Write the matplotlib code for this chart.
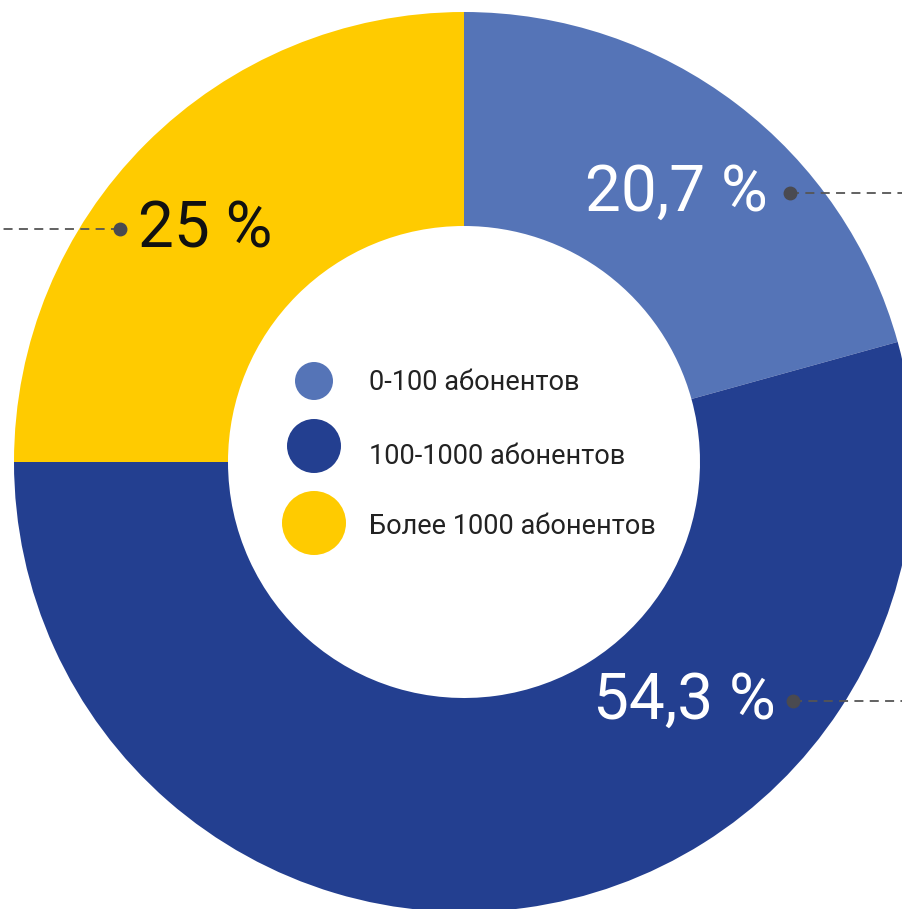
import matplotlib
matplotlib.use('Agg')
import matplotlib.pyplot as plt

# Data
categories = ['0-100 абонентов', '100-1000 абонентов', 'Более 1000 абонентов']
shares = [20.7, 54.3, 25.0]
share_labels = ['20,7 %', '54,3 %', '25 %']
colors = ['#5574B7', '#233F90', '#FFCB00']

W, H = 902, 909
plt.rcParams['font.family'] = ['Roboto', 'DejaVu Sans']

fig = plt.figure(figsize=(W / 100, H / 100), dpi=100)
ax = fig.add_axes([0, 0, 1, 1])

# donut, centre and radius in pixel units (y measured from bottom)
cx, cy = 464, H - 462
r_out, r_in = 450, 236
ax.pie(shares, colors=colors, startangle=90, counterclock=False,
       center=(cx, cy), radius=r_out,
       wedgeprops=dict(width=r_out - r_in, linewidth=0))

ax.set_xlim(0, W)
ax.set_ylim(0, H)
ax.set_aspect('equal')
ax.axis('off')

# percent labels: (text x, text y, dot x, line end x, text colour, ha)
label_layout = [
    (768, 193, 790, W, 'white', 'right'),
    (776, 701, 793, W, 'white', 'right'),
    (138, 229, 120, 0, '#111111', 'left'),
]
for lab, (tx, ty, dx, ex, tc, ha) in zip(share_labels, label_layout):
    ax.text(tx, H - ty, lab, color=tc, fontsize=46, ha=ha, va='center')
    ax.plot([dx, ex], [H - ty, H - ty], color='#555555', lw=1.3,
            linestyle=(0, (5, 3.5)), zorder=3)
    ax.plot(dx, H - ty, 'o', color='#4a4a50', markersize=9, zorder=4)

# legend in the hole
legend_y = [381, 446, 523]
legend_r = [19, 27, 32]
text_y = [383, 457, 527]
for cat, col, ly, lr, ty in zip(categories, colors, legend_y, legend_r, text_y):
    ax.add_patch(plt.Circle((314, H - ly), lr, color=col, lw=0))
    ax.text(369, H - ty, cat, color='#222222', fontsize=19.5, ha='left', va='center')

plt.savefig('out.png', dpi=100)
plt.close(fig)
